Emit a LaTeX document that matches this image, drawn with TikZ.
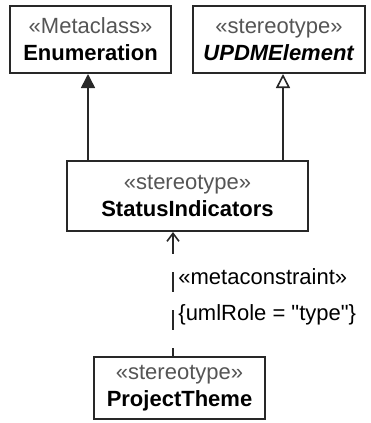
\documentclass[tikz,border=0pt]{standalone}
\usepackage{fontspec}
\setmainfont{Liberation Sans}
\usepackage{xcolor}
\usepackage{tikz}
\usetikzlibrary{positioning,arrows.meta,calc}
\definecolor{stereo}{RGB}{85,85,85}
\definecolor{edge}{RGB}{40,40,40}
\tikzset{
  cls/.style={draw=edge,line width=1pt,fill=white,align=center,inner sep=2pt,
    font=\fontsize{11}{13.5}\selectfont},
  lbl/.style={anchor=west,inner sep=0pt,font=\fontsize{11}{13.5}\selectfont},
  ext/.style={-{Triangle[length=7pt,width=7pt]},line width=0.8pt,edge},
  gen/.style={-{Triangle[open,length=7pt,width=7pt,fill=white]},line width=0.8pt,edge},
  dep/.style={{Straight Barb[length=4pt,width=6pt]}-,line width=0.8pt,edge,dash pattern=on 10pt off 9pt},
}
\newcommand{\stereo}[1]{{\color{stereo}\guillemotleft#1\guillemotright}}
\begin{document}
\begin{tikzpicture}[x=0.5pt,y=-0.5pt]
  \useasboundingbox (0,0) rectangle (370,423);
  % classes
  \node[cls,minimum width=80.5pt,minimum height=33.5pt] (enum) at (90.5,39.5)
    {\stereo{Metaclass}\\\textbf{Enumeration}};
  \node[cls,minimum width=86pt,minimum height=33.5pt] (updm) at (279,39.5)
    {\stereo{stereotype}\\\textbf{\itshape UPDMElement}};
  \node[cls,minimum width=120.5pt,minimum height=35pt] (si) at (187.5,196)
    {\stereo{stereotype}\\\textbf{StatusIndicators}};
  \node[cls,minimum width=85.5pt,minimum height=31pt] (pt) at (179.5,388)
    {\stereo{stereotype}\\\textbf{ProjectTheme}};
  % connectors
  \coordinate (ea) at ($(si.north)+(-99.5,0)$);
  \coordinate (ua) at ($(si.north)+(95.5,0)$);
  \draw[ext] (ea) -- (ea |- enum.south);
  \draw[gen] (ua) -- (ua |- updm.south);
  \coordinate (da) at ($(si.south)+(-14.5,0)$);
  \draw[dep] (da) -- (da |- pt.north);
  \node[lbl] (mc) at (178,277) {\guillemotleft metaconstraint\guillemotright};
  \node[lbl] (role) at (178,315) {\{umlRole = \textquotedbl type\textquotedbl\}};
\end{tikzpicture}
\end{document}
